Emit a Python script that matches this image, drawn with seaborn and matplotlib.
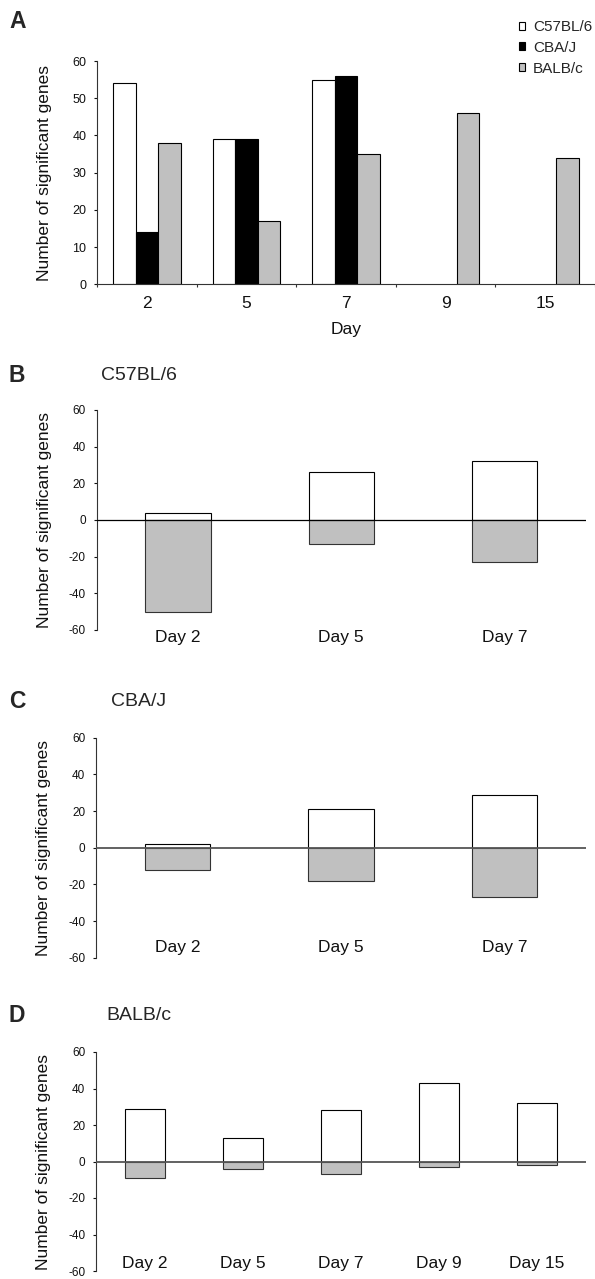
import matplotlib
matplotlib.use("Agg")
import matplotlib.pyplot as plt
from matplotlib.patches import Patch
from matplotlib.ticker import FixedLocator
import seaborn as sns
import pandas as pd
import numpy as np

sns.set_theme(style="ticks")
plt.rcParams["font.family"] = ["Liberation Sans", "DejaVu Sans"]
plt.rcParams["axes.unicode_minus"] = False

# панель A: число значимых генов по дням
days_a = ["2", "5", "7", "9", "15"]
strains = ["C57BL/6", "CBA/J", "BALB/c"]
c57_a = [54, 39, 55, np.nan, np.nan]
cba_a = [14, 39, 56, np.nan, np.nan]
balb_a = [38, 17, 35, 46, 34]

# панели B-D: вверх / вниз
days_bc = ["Day 2", "Day 5", "Day 7"]
c57_up = [4, 26, 32]
c57_down = [-50, -13, -23]
cba_up = [2, 21, 29]
cba_down = [-12, -18, -27]
days_d = ["Day 2", "Day 5", "Day 7", "Day 9", "Day 15"]
balb_up = [29, 13, 28, 43, 32]
balb_down = [-9, -4, -7, -3, -2]

colors = ["white", "black", "#c0c0c0"]
W, H = 595, 1279
fig = plt.figure(figsize=(W / 100, H / 100), dpi=100)


def rect(left, top, right, bottom):
    return [left / W, 1 - bottom / H, (right - left) / W, (bottom - top) / H]


def style_axis(ax, tick_size):
    for s in ["top", "right"]:
        ax.spines[s].set_visible(False)
    ax.spines["left"].set_color("#333333")
    ax.spines["left"].set_linewidth(0.8)
    ax.spines["bottom"].set_color("#333333")
    ax.spines["bottom"].set_linewidth(0.8)
    ax.tick_params(axis="y", length=2.2, width=0.8, pad=5.5,
                   labelsize=tick_size, colors="#111111")
    ax.set_xlabel("")
    ax.set_ylabel("Number of significant genes", fontsize=12.5, color="#111111")


# --- панель A ---
df_a = pd.DataFrame({
    "day": days_a * 3,
    "strain": np.repeat(strains, len(days_a)),
    "genes": c57_a + cba_a + balb_a,
})
ax_a = fig.add_axes(rect(97, 61, 595, 284.3))
sns.barplot(data=df_a, x="day", y="genes", hue="strain",
            order=days_a, hue_order=strains,
            palette=dict(zip(strains, colors)), saturation=1,
            width=0.68, edgecolor="black", linewidth=0.8,
            errorbar=None, legend=False, ax=ax_a)
ax_a.set_xlim(-0.5, 4.5)
ax_a.set_ylim(0, 60)
ax_a.set_yticks(range(0, 61, 10))
style_axis(ax_a, 9)
ax_a.xaxis.set_minor_locator(FixedLocator(np.arange(-0.5, 5, 1)))
ax_a.tick_params(axis="x", which="major", length=0, pad=8.2, labelsize=12.5,
                 labelcolor="#111111")
ax_a.tick_params(axis="x", which="minor", length=2.5, width=0.8,
                 direction="out", color="#333333")
ax_a.set_xlabel("Day", fontsize=12.5, color="#111111")
ax_a.xaxis.set_label_coords(0.5, -0.1675)
ax_a.yaxis.set_label_coords(-0.090, 0.5)

handles = [Patch(facecolor=c, edgecolor="black", linewidth=0.8) for c in colors]
fig.legend(handles, strains, loc="upper left",
           bbox_to_anchor=(519 / W, 1 - 20 / H), frameon=False, fontsize=11,
           handlelength=0.42, handleheight=0.42, handletextpad=0.5,
           labelspacing=0.45, borderpad=0, borderaxespad=0)


# --- панели B, C, D ---
def panel(box, days, up, down, zero_color, zero_lw, label_pad):
    ax = fig.add_axes(rect(*box))
    sns.barplot(x=days, y=up, color="white", saturation=1, width=0.4,
                edgecolor="black", linewidth=0.8, errorbar=None, ax=ax)
    sns.barplot(x=days, y=down, color="#c0c0c0", saturation=1, width=0.4,
                edgecolor="#333333", linewidth=0.8, errorbar=None, ax=ax)
    ax.axhline(0, color=zero_color, lw=zero_lw, zorder=3)
    ax.set_xlim(-0.5, len(days) - 0.5)
    ax.set_ylim(-60, 60)
    ax.set_yticks(range(-60, 61, 20))
    style_axis(ax, 8.5)
    ax.spines["bottom"].set_visible(False)
    ax.tick_params(axis="x", length=0, pad=label_pad, labelsize=12.5,
                   labelcolor="#111111")
    ax.yaxis.set_label_coords(-0.091, 0.5)
    return ax


panel((96.5, 410, 586, 630), days_bc, c57_up, c57_down, "black", 0.9, 0)
panel((96, 737.7, 586, 957.7), days_bc, cba_up, cba_down, "#555555", 1.3, -12.5)
panel((96, 1052, 586, 1271), days_d, balb_up, balb_down, "#555555", 1.3, -11)

# буквы панелей и подписи линий
for letter, y in [("A", 21), ("B", 375), ("C", 701), ("D", 1016)]:
    fig.text(9 / W, 1 - y / H, letter, fontsize=16.5, fontweight="bold",
             ha="left", va="center")
for title, y in [("C57BL/6", 376), ("CBA/J", 701), ("BALB/c", 1016)]:
    fig.text(139 / W, 1 - y / H, title, fontsize=14, ha="center", va="center")

fig.savefig("out.png", dpi=100)
